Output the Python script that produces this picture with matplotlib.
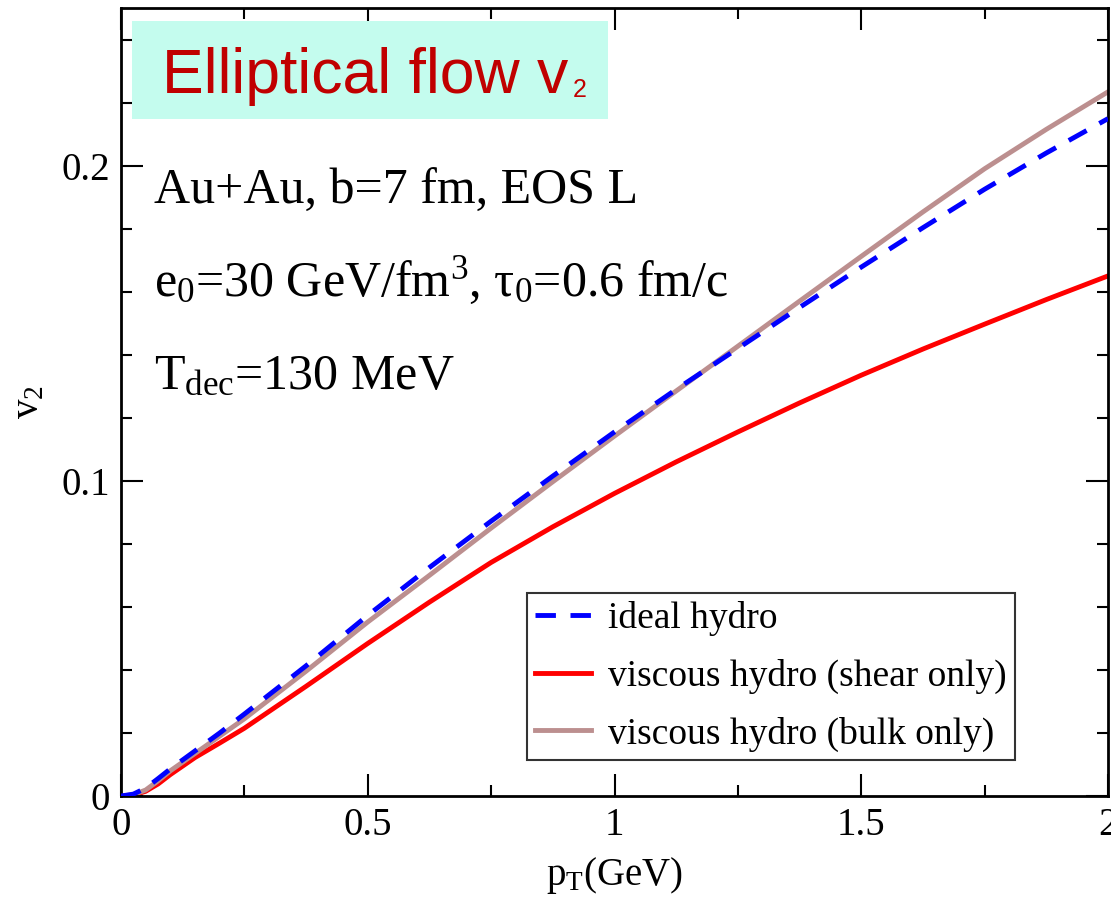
import matplotlib
matplotlib.use("Agg")
import matplotlib.pyplot as plt
from matplotlib.patches import Rectangle
from matplotlib.ticker import MultipleLocator

plt.rcParams['font.family'] = ['Liberation Serif', 'DejaVu Serif']
plt.rcParams['mathtext.fontset'] = 'custom'
plt.rcParams['mathtext.rm'] = 'Liberation Serif'
plt.rcParams['mathtext.it'] = 'Liberation Serif:italic'

# pT grid (GeV) and v2
pt = [0, 0.025, 0.05, 0.075, 0.1, 0.15, 0.2, 0.25, 0.375, 0.5, 0.625, 0.75,
      0.875, 1.0, 1.125, 1.25, 1.375, 1.5, 1.625, 1.75, 1.875, 2.0]
v2_ideal = [0, 0.0006, 0.0025, 0.0055, 0.0086, 0.0143, 0.0200, 0.0260, 0.0413,
            0.0573, 0.0725, 0.0872, 0.1015, 0.1155, 0.1290, 0.1420, 0.1550,
            0.1678, 0.1803, 0.1925, 0.2040, 0.2149]
v2_shear = [0, 0.0003, 0.0015, 0.0038, 0.0068, 0.0122, 0.0168, 0.0215, 0.0348,
            0.0484, 0.0615, 0.0741, 0.0854, 0.0960, 0.1060, 0.1155, 0.1247,
            0.1335, 0.1418, 0.1497, 0.1575, 0.1650]
v2_bulk = [0, 0.0004, 0.0019, 0.0048, 0.0080, 0.0135, 0.0190, 0.0245, 0.0396,
           0.0552, 0.0700, 0.0850, 0.0997, 0.1142, 0.1285, 0.1427, 0.1570,
           0.1712, 0.1853, 0.1990, 0.2115, 0.2234]

labels = ['ideal hydro', 'viscous hydro (shear only)', 'viscous hydro (bulk only)']

fig = plt.figure(figsize=(11.11, 9.11), dpi=100)
ax = fig.add_axes([121 / 1111, 115 / 911, 987 / 1111, 788 / 911])

ax.plot(pt, v2_ideal, color='#0000ff', lw=3.5, dashes=(4.2, 3), label=labels[0], zorder=3)
ax.plot(pt, v2_shear, color='#ff0000', lw=3.5, label=labels[1], zorder=2)
ax.plot(pt, v2_bulk, color='#bc8f8f', lw=3.5, label=labels[2], zorder=2)

ax.set_xlim(0, 2)
ax.set_ylim(0, 0.25)
ax.xaxis.set_major_locator(MultipleLocator(0.5))
ax.xaxis.set_minor_locator(MultipleLocator(0.25))
ax.yaxis.set_major_locator(MultipleLocator(0.1))
ax.yaxis.set_minor_locator(MultipleLocator(0.02))
ax.set_xticks([0, 0.5, 1, 1.5, 2], ['0', '0.5', '1', '1.5', '2'])
ax.set_yticks([0, 0.1, 0.2], ['0', '0.1', '0.2'])
ax.tick_params(which='both', direction='in', top=True, right=True,
               labelsize=28, width=1.5, pad=8)
ax.tick_params(which='major', length=16)
ax.tick_params(which='minor', length=8)
for s in ax.spines.values():
    s.set_linewidth(2)

ax.set_xlabel(r'$\mathregular{p_T}$(GeV)', fontsize=28, labelpad=8)
ax.set_ylabel(r'$\mathregular{v_2}$', fontsize=28, labelpad=10)

leg = ax.legend(loc='lower right', bbox_to_anchor=(0.906, 0.046), fontsize=27,
                frameon=True, fancybox=False, edgecolor='black', handlelength=1.5,
                handletextpad=0.45, borderpad=0.22, labelspacing=0.6, borderaxespad=0)
leg.get_frame().set_linewidth(1.5)

# parameter text
fs = 36
ax.text(0.033, 0.751, 'Au+Au, b=7 fm, EOS L', transform=ax.transAxes, fontsize=fs)
ax.text(0.033, 0.634, r'$\mathregular{e_0}$=30 GeV/fm$\mathregular{^3}$, $\mathregular{\tau_0}$=0.6 fm/c',
        transform=ax.transAxes, fontsize=fs)
ax.text(0.033, 0.517, r'$\mathregular{T_{dec}}$=130 MeV', transform=ax.transAxes, fontsize=fs)

# title banner
fig.patches.append(Rectangle((132 / 1111, 1 - 119 / 911), 476 / 1111, 98 / 911,
                             transform=fig.transFigure, facecolor='#c4fcee',
                             edgecolor='none', zorder=5))
fig.text(162 / 1111, 1 - 93 / 911, 'Elliptical flow v', family='Liberation Sans',
         fontsize=45, color='#c00000', zorder=6)
fig.text(573 / 1111, 1 - 97 / 911, '2', family='Liberation Sans',
         fontsize=18, color='#c00000', zorder=6)

fig.savefig('out.png', dpi=100)
